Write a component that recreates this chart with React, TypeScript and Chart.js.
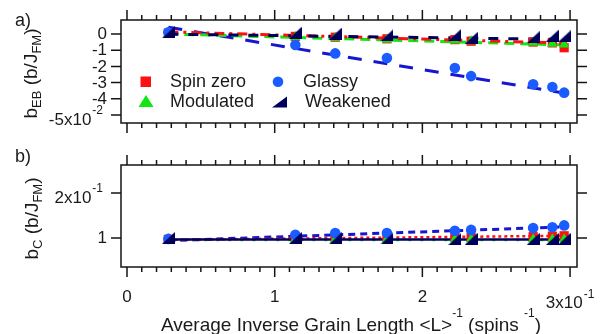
import React, { useEffect, useRef } from 'react';
import { Chart, registerables } from 'chart.js';

Chart.register(...registerables);

// ---------------- data ----------------
const grainInvLength = [0.28, 1.14, 1.41, 1.76, 2.22, 2.33, 2.75, 2.88, 2.96];

// panel a) b_EB in units of 1e-2
const ebSpinZero = [0.05, -0.15, -0.2, -0.3, -0.35, -0.45, -0.5, -0.55, -0.85];
const ebModulated = [0.0, -0.2, -0.25, -0.35, -0.4, -0.45, -0.55, -0.6, -0.65];
const ebGlassy = [0.1, -0.68, -1.2, -1.48, -2.1, -2.6, -3.1, -3.27, -3.62];
const ebWeakened = [0.1, 0.08, 0.02, -0.08, -0.05, -0.25, -0.2, -0.1, -0.15];

const fitRange = [0.28, 2.98];
const ebFitSpinZero = [0.13, -0.57];
const ebFitModulated = [0.0, -0.68];
const ebFitGlassy = [0.41, -3.68];
const ebFitWeakened = [-0.01, -0.34];

// panel b) b_C in units of 1e-1
const cSpinZero = [0.97, 0.98, 0.99, 1.0, 1.01, 1.01, 1.03, 1.04, 1.05];
const cModulated = [0.97, 0.97, 0.97, 0.97, 0.97, 0.97, 0.97, 0.97, 0.97];
const cGlassy = [0.98, 1.07, 1.11, 1.11, 1.16, 1.18, 1.22, 1.24, 1.28];
const cWeakened = [1.0, 1.0, 0.99, 0.99, 0.98, 0.98, 0.98, 0.98, 0.98];

const cFitSpinZero = [0.96, 1.05];
const cFitModulated = [0.955, 0.955];
const cFitGlassy = [0.94, 1.25];
const cFitWeakened = [0.965, 0.965];

// ticks
const xMajorTicks = [0, 1, 2, 3];
const xTickLabels = ['0', '1', '2', '3x10'];
const xTickExp = ['', '', '', '-1'];
const ebTicks = [0, -1, -2, -3, -4, -5];
const ebTickLabels = ['0', '-1', '-2', '-3', '-4', '-5x10'];
const ebTickExp = ['', '', '', '', '', '-2'];
const cTicks = [1, 2];
const cTickLabels = ['1', '2x10'];
const cTickExp = ['', '-1'];
const seriesNames = ['Spin zero', 'Modulated', 'Glassy', 'Weakened'];

// ---------------- styles ----------------
const RED = '#ff1010';
const GREEN = '#12e612';
const BLUE_M = '#1a5cff';
const BLUE_L = '#1616d0';
const NAVY = '#00005c';
const AXIS = '#151515';
const TEXT = '#1a1a1a';
const FONT = '"Liberation Sans", Arial, Helvetica, sans-serif';

type Seg = { t: string; s?: 'sup' | 'sub' };

function drawRich(ctx: CanvasRenderingContext2D, segs: Seg[], x: number, y: number, size: number, small: number, supShift: number, subShift: number) {
  const widths = segs.map((sg) => {
    ctx.font = `${sg.s ? small : size}px ${FONT}`;
    return ctx.measureText(sg.t).width;
  });
  const total = widths.reduce((a, b) => a + b, 0);
  let cx = x - total / 2;
  ctx.textAlign = 'left';
  ctx.textBaseline = 'alphabetic';
  segs.forEach((sg, i) => {
    ctx.font = `${sg.s ? small : size}px ${FONT}`;
    const dy = sg.s === 'sup' ? -supShift : sg.s === 'sub' ? subShift : 0;
    ctx.fillText(sg.t, cx, y + dy);
    cx += widths[i];
  });
}

function drawBox(chart: any, yTicks: number[], yLabels: string[], yExp: string[]) {
  const { ctx, chartArea: a } = chart;
  const xs = chart.scales.x;
  const ys = chart.scales.y;
  ctx.save();
  ctx.strokeStyle = AXIS;
  ctx.lineWidth = 1.5;
  ctx.strokeRect(a.left, a.top, a.right - a.left, a.bottom - a.top);
  ctx.beginPath();
  for (let i = 0; i <= 30; i++) {
    const v = i / 10;
    const len = i % 10 === 0 ? 10 : 5;
    const px = xs.getPixelForValue(v);
    ctx.moveTo(px, a.top);
    ctx.lineTo(px, a.top - len);
    ctx.moveTo(px, a.bottom);
    ctx.lineTo(px, a.bottom + len);
  }
  yTicks.forEach((v) => {
    const py = ys.getPixelForValue(v);
    ctx.moveTo(a.left, py);
    ctx.lineTo(a.left - 10, py);
    ctx.moveTo(a.right, py);
    ctx.lineTo(a.right + 10, py);
  });
  ctx.stroke();

  ctx.fillStyle = TEXT;
  yTicks.forEach((v, i) => {
    const py = ys.getPixelForValue(v);
    if (!yExp[i]) {
      ctx.font = `17px ${FONT}`;
      ctx.textAlign = 'right';
      ctx.textBaseline = 'middle';
      ctx.fillText(yLabels[i], 107, py + 0.5);
    } else {
      ctx.font = `12px ${FONT}`;
      const ew = ctx.measureText(yExp[i]).width;
      ctx.textAlign = 'left';
      ctx.textBaseline = 'alphabetic';
      ctx.fillText(yExp[i], 103 - ew, py - 1);
      ctx.font = `17px ${FONT}`;
      ctx.textAlign = 'right';
      ctx.fillText(yLabels[i], 103 - ew - 1, py + 10);
    }
  });
  ctx.restore();
}

function drawHalfTri(ctx: CanvasRenderingContext2D, cx: number, cy: number, w: number, h: number) {
  ctx.beginPath();
  ctx.moveTo(cx - w / 2, cy + h / 2);
  ctx.lineTo(cx + w / 2, cy + h / 2);
  ctx.lineTo(cx + w / 2, cy - h / 2);
  ctx.closePath();
  ctx.fill();
}

const topDecor = {
  id: 'topDecor',
  afterDraw(chart: any) {
    drawBox(chart, ebTicks, ebTickLabels, ebTickExp);
    const ctx: CanvasRenderingContext2D = chart.ctx;
    ctx.save();
    ctx.fillStyle = TEXT;
    ctx.font = `18px ${FONT}`;
    ctx.textAlign = 'left';
    ctx.textBaseline = 'alphabetic';
    ctx.fillText('a)', 15, 26);
    // y title
    ctx.translate(37, 73.5);
    ctx.rotate(-Math.PI / 2);
    drawRich(ctx, [{ t: 'b' }, { t: 'EB', s: 'sub' }, { t: ' (b/J' }, { t: 'FM', s: 'sub' }, { t: ')' }], 0, 0, 19, 13, 7, 4);
    ctx.restore();

    // legend
    ctx.save();
    ctx.fillStyle = RED;
    ctx.fillRect(140.5, 76.5, 10.5, 10.5);
    ctx.fillStyle = GREEN;
    ctx.beginPath();
    ctx.moveTo(138.5, 107);
    ctx.lineTo(153.5, 107);
    ctx.lineTo(146, 95);
    ctx.closePath();
    ctx.fill();
    ctx.fillStyle = BLUE_M;
    ctx.beginPath();
    ctx.arc(278, 81.8, 5.3, 0, Math.PI * 2);
    ctx.fill();
    ctx.fillStyle = NAVY;
    drawHalfTri(ctx, 279.5, 102, 15, 11);
    ctx.fillStyle = TEXT;
    ctx.font = `18px ${FONT}`;
    ctx.textAlign = 'left';
    ctx.textBaseline = 'alphabetic';
    ctx.fillText(seriesNames[0], 170, 87);
    ctx.fillText(seriesNames[2], 303, 87);
    ctx.fillText(seriesNames[1], 170, 107);
    ctx.fillText(seriesNames[3], 305, 107);
    ctx.restore();
  },
};

const bottomDecor = {
  id: 'bottomDecor',
  afterDraw(chart: any) {
    drawBox(chart, cTicks, cTickLabels, cTickExp);
    const ctx: CanvasRenderingContext2D = chart.ctx;
    const xs = chart.scales.x;
    ctx.save();
    ctx.fillStyle = TEXT;
    xMajorTicks.forEach((v, i) => {
      const px = xs.getPixelForValue(v);
      if (!xTickExp[i]) {
        ctx.font = `17px ${FONT}`;
        ctx.textAlign = 'center';
        ctx.textBaseline = 'alphabetic';
        ctx.fillText(xTickLabels[i], px, 302);
      } else {
        ctx.font = `17px ${FONT}`;
        const mw = ctx.measureText(xTickLabels[i]).width;
        ctx.font = `12px ${FONT}`;
        const ew = ctx.measureText(xTickExp[i]).width;
        const start = px - (mw + ew + 1) / 2;
        ctx.textAlign = 'left';
        ctx.textBaseline = 'alphabetic';
        ctx.font = `17px ${FONT}`;
        ctx.fillText(xTickLabels[i], start, 308);
        ctx.font = `12px ${FONT}`;
        ctx.fillText(xTickExp[i], start + mw + 1, 298);
      }
    });
    ctx.font = `18px ${FONT}`;
    ctx.textAlign = 'left';
    ctx.fillText('b)', 15, 162);
    drawRich(ctx, [{ t: 'Average Inverse Grain Length <L>' }, { t: '-1', s: 'sup' }, { t: ' (spins ' }, { t: '-1', s: 'sup' }, { t: ')' }], 351, 331, 19, 12, 14, 0);
    ctx.translate(38, 218.5);
    ctx.rotate(-Math.PI / 2);
    drawRich(ctx, [{ t: 'b' }, { t: 'C', s: 'sub' }, { t: ' (b/J' }, { t: 'FM', s: 'sub' }, { t: ')' }], 0, 0, 19, 13, 7, 4);
    ctx.restore();
  },
};

function makeHalfTriCanvas(w: number, h: number, color: string) {
  const c = document.createElement('canvas');
  c.width = w;
  c.height = h;
  const g = c.getContext('2d')!;
  g.fillStyle = color;
  drawHalfTri(g, w / 2, h / 2, w, h);
  return c;
}

function buildDatasets(
  sz: number[], mod: number[], gl: number[], wk: number[],
  fSz: number[], fMod: number[], fGl: number[], fWk: number[],
  half: HTMLCanvasElement, panel: 'top' | 'bottom'
) {
  const pts = (ys: number[]) => grainInvLength.map((x, i) => ({ x, y: ys[i] }));
  const fit = (ys: number[]) => fitRange.map((x, i) => ({ x, y: ys[i] }));
  const marker = (label: string, data: any, style: any, radius: number, color: string, order: number) => ({
    label, data, showLine: false, pointStyle: style, pointRadius: radius,
    pointBackgroundColor: color, pointBorderColor: color, pointBorderWidth: 0, order,
  });
  const line = (label: string, data: any, color: string, dash: number[], width: number, order: number) => ({
    label, data, showLine: true, pointRadius: 0, borderColor: color, backgroundColor: color,
    borderWidth: width, borderDash: dash, order, fill: false,
  });
  const top = panel === 'top';
  return [
    marker(seriesNames[3], pts(wk), half, 6, NAVY, 0),
    marker(seriesNames[2], pts(gl), 'circle', 5.3, BLUE_M, 1),
    marker(seriesNames[1], pts(mod), 'triangle', 6, GREEN, 2),
    marker(seriesNames[0], pts(sz), 'rect', 6.5, RED, 3),
    line(seriesNames[3] + ' fit', fit(fWk), NAVY, top ? [10, 10] : [], top ? 3 : 2.5, 10),
    line(seriesNames[0] + ' fit', fit(fSz), RED, top ? [10, 5, 3, 5] : [3, 3], top ? 3 : 2.5, 11),
    line(seriesNames[1] + ' fit', fit(fMod), GREEN, top ? [10, 6] : [3, 9], top ? 3 : 2.5, 12),
    line(seriesNames[2] + ' fit', fit(fGl), BLUE_L, top ? [14, 12] : [7, 5], 3, 13),
  ];
}

export default function App() {
  const topRef = useRef<HTMLCanvasElement | null>(null);
  const botRef = useRef<HTMLCanvasElement | null>(null);

  useEffect(() => {
    const half = makeHalfTriCanvas(13, 12, NAVY);
    const common = (padding: any, ymin: number, ymax: number) => ({
      responsive: false,
      animation: false as const,
      devicePixelRatio: 1,
      events: [] as any[],
      layout: { padding },
      scales: {
        x: { type: 'linear' as const, min: -0.0406, max: 3.047, display: false },
        y: { type: 'linear' as const, min: ymin, max: ymax, display: false },
      },
      plugins: { legend: { display: false }, tooltip: { enabled: false } },
    });
    const top = new Chart(topRef.current!, {
      type: 'scatter',
      data: {
        datasets: buildDatasets(ebSpinZero, ebModulated, ebGlassy, ebWeakened,
          ebFitSpinZero, ebFitModulated, ebFitGlassy, ebFitWeakened, half, 'top') as any,
      },
      options: common({ left: 121, right: 25, top: 20, bottom: 211 }, -5.49, 0.86) as any,
      plugins: [topDecor],
    });
    const bot = new Chart(botRef.current!, {
      type: 'scatter',
      data: {
        datasets: buildDatasets(cSpinZero, cModulated, cGlassy, cWeakened,
          cFitSpinZero, cFitModulated, cFitGlassy, cFitWeakened, half, 'bottom') as any,
      },
      options: common({ left: 121, right: 25, top: 165, bottom: 67 }, 0.356, 2.622) as any,
      plugins: [bottomDecor],
    });
    return () => {
      top.destroy();
      bot.destroy();
    };
  }, []);

  const cstyle: React.CSSProperties = { position: 'absolute', left: 0, top: 0, width: 602, height: 334 };
  return (
    <div style={{ position: 'fixed', left: 0, top: 0, width: 602, height: 334, background: '#fff' }}>
      <canvas ref={topRef} width={602} height={334} style={cstyle} />
      <canvas ref={botRef} width={602} height={334} style={cstyle} />
    </div>
  );
}
